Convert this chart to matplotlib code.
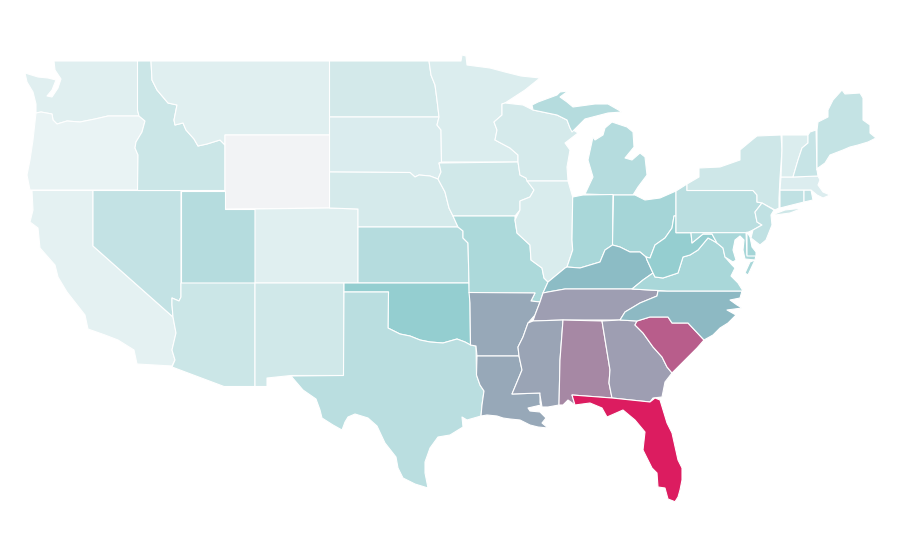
import numpy as np
import matplotlib
matplotlib.use("Agg")
import matplotlib.pyplot as plt
from matplotlib.colors import LinearSegmentedColormap, Normalize
from matplotlib.patches import Polygon

# Choropleth values (Wyoming has no value)
STATES = ["WA","OR","CA","NV","ID","MT","WY","UT","CO","AZ","NM","ND","SD","NE","KS","OK","TX",
          "MN","IA","MO","AR","LA","WI","IL","MI","IN","OH","KY","TN","MS","AL","GA","FL","SC",
          "NC","VA","WV","PA","NY","NJ","MD","DE","CT","RI","MA","VT","NH","ME"]
VALUES = [.051,.026,.041,.147,.118,.054,np.nan,.191,.054,.118,.102,.096,.073,.086,.188,.295,.172,
          .07,.105,.217,.55,.55,.086,.077,.188,.23,.24,.40,.62,.58,.70,.62,1.0,.85,
          .42,.23,.29,.172,.112,.153,.23,.243,.156,.156,.064,.067,.131,.144]

# Map geometry, in map units of the 900x560 canvas
OUTLINES = {
"WA":[[(54,61),(137.5,61),(137.5,110),(139,116),(108,116),(95,119),(80,122),(67,121),(57,124),(53,120),(52,114),(41,112),(36,113),(36,104),(33,92),(27,82),(25,73),(38,77),(48,78),(56,80),(52,90),(47,96),(52,97),(58,88),(61,79),(55,70)]],
"OR":[[(36,113),(41,112),(52,114),(53,120),(57,124),(67,121),(80,122),(95,119),(108,116),(139,116),(145,121),(142,132),(136,142),(135,148),(138,155),(137.5,190),(30,190),(27,175),(30,160),(33,140)]],
"CA":[[(32,190.5),(93,190.5),(93,246),(173,317),(176,333),(172,350),(175,360),(172,366),(137,364),(134,350),(118,340),(105,335),(88,329),(85,315),(67,292),(58,277),(55,265),(40,248),(38,228),(30,222),(33,210)]],
"NV":[[(93,190.5),(181,190.5),(181,297),(179,301),(172,298),(172,305),(173,317),(93,246)]],
"ID":[[(137.5,61),(151,61),(152,80),(157,90),(168,103),(177,105),(174,120),(175,125),(183,123),(186,130),(194,139),(198,146),(207,144),(220,140),(225,145),(225,190.5),(137.5,190.5),(138,155),(135,148),(136,142),(142,132),(145,121),(139,116),(137.5,110)]],
"MT":[[(151,61),(329.5,61),(329.5,135),(225,135),(225,145),(220,140),(207,144),(198,146),(194,139),(186,130),(183,123),(175,125),(174,120),(177,105),(168,103),(157,90),(152,80)]],
"WY":[[(225,135),(329.5,135),(329.5,208),(225,209)]],
"UT":[[(181,190.5),(225,190.5),(225,209),(255,209),(255,283),(181,283)]],
"CO":[[(255,209),(329.5,208),(358,209),(358,283),(255,283)]],
"AZ":[[(181,283),(255,283),(255,386.5),(224,386.5),(172,367),(175,360),(172,350),(176,333),(173,317),(172,305),(172,298),(179,301),(181,297)]],
"NM":[[(255,283),(344,283),(343.5,375.5),(291,375.5),(267,378),(267,386.5),(255,386.5)]],
"ND":[[(329.5,61),(429,61),(431,75),(435,85),(437,100),(439,117),(329.5,117)]],
"SD":[[(329.5,117),(439,117),(437,125),(441,130),(441.5,162),(439,163),(441,172),(438,179),(430,176),(419,175),(415,177),(410,172.5),(329.5,172)]],
"NE":[[(329.5,172),(410,172.5),(415,177),(419,175),(430,176),(438,179),(445,192),(449,208),(453,216),(458,227),(358,227),(358,209),(329.5,208)]],
"KS":[[(358,227),(458,227),(463,231),(463,238),(468,243),(469,283),(358,283)]],
"OK":[[(344,283),(469,283),(470,303),(470.5,345),(465,342),(457,339),(443,343),(430,342),(420,340),(410,336),(400,334),(388,328),(388.5,292),(344,292)]],
"TX":[[(344,292),(388.5,292),(388,328),(400,334),(410,336),(420,340),(430,342),(443,343),(457,339),(465,342),(470.5,345),(476,346),(476.5,375),(480,385),(484,391),(482,405),(481,416),(467,420),(462,417),(463,427),(450,435),(438,437),(430,448),(425,462),(425,473),(428,488),(415,484),(403,478),(398,468),(396,457),(385,443),(377,426),(368,418),(355,414),(348,417),(345,422),(342,430),(333,425),(322,418),(320,410),(316,399),(303,390),(291,376),(343.5,375.5)]],
"MN":[[(429,61),(461,61),(462,55),(466,56),(467,65),(490,68),(505,72),(521,76),(540,78),(525,90),(505,103),(502,104),(502,115),(494,122),(497,130),(495,140),(510,148),(518,155),(518,162),(441.5,162),(441,130),(437,125),(439,117),(437,100),(435,85),(431,75)]],
"IA":[[(439,163),(518,162),(520,175),(526,178),(534,190),(530,197),(520,201),(520,210),(515,216),(453,216),(449,208),(445,192),(438,179),(441,172)]],
"MO":[[(453,216),(515,216),(515,220),(517,233),(530,245),(531,260),(542,268),(544,278),(548,282),(543,293),(540,302),(531,301),(535,293),(469,292.5),(469,283),(468,243),(463,238),(463,231),(458,227)]],
"AR":[[(469,292.5),(535,293),(531,301),(540,302),(535,315),(528,323),(523,337),(518,347),(519,356),(477,356),(476,346),(470.5,345),(470,303)]],
"LA":[[(477,356),(519,356),(522,370),(517,382),(512,394),(540,393),(540,403),(541,405),(528,408),(530,411),(540,412),(546,418),(542,423),(548,428),(538,427),(530,425),(520,420),(510,419),(503,418),(497,416),(487,415),(481,416),(482,405),(484,391),(480,385),(476.5,375)]],
"WI":[[(505,103),(523,105),(533,110),(557,115),(567,120),(570,128),(578,133),(565,143),(570,150),(567,167),(568,181),(527,181),(526,178),(520,175),(518,162),(518,155),(510,148),(495,140),(497,130),(494,122),(502,115),(502,104)]],
"IL":[[(527,181),(568,181),(572.7,197),(572,240),(572.7,250),(567,267),(565,268),(548,282),(544,278),(542,268),(531,260),(530,245),(517,233),(515,220),(520,210),(520,201),(530,197),(534,190)]],
"MI":[[(532,105),(538,102),(557,95),(560,92),(568,91),(560,97),(567,102),(573,107),(595,104),(608,104),(622,112),(608,113),(585,119),(572,132),(570,128),(567,120),(557,115),(533,110)],
      [(612,122),(627,127),(633,132),(634,147),(625,158),(632,160),(640,153),(645,157),(647,175),(638,187),(633,195),(613.5,195),(585,194),(593,177),(588,160),(593,137),(595,140),(603,135),(605,128)]],
"IN":[[(572.7,197),(583,195),(613,194.5),(612.5,245),(605,250),(600,262),(590,265),(580,268),(567,267),(572.7,250),(572,240)]],
"OH":[[(613.5,195),(635,195),(645,200),(660,198),(676,191),(676,216),(674,216),(672,228),(665,238),(655,245),(650,258),(646,257),(640,252),(630,252),(620,247),(612.5,245)]],
"KY":[[(612.5,245),(620,247),(630,252),(640,252),(646,257),(647,260),(653,273),(643,280),(632,289),(565,289),(548,292),(543,293),(548,282),(565,268),(567,267),(580,268),(590,265),(600,262),(605,250)]],
"TN":[[(543,293),(548,292),(565,289),(632,289),(667,291),(658,291),(657,296),(640,303),(625,312),(620,320),(563,320),(533,321),(535,315),(540,302)]],
"MS":[[(533,321),(563,320),(560,360),(559,405),(548,407),(542,407),(540,395),(540,393),(512,394),(517,382),(522,370),(519,356),(518,347),(523,337),(528,323)]],
"AL":[[(563,320),(602,321),(610,370),(609,383),(612,398),(572,395),(575,405),(568,400),(563,405),(559,405),(560,360)]],
"GA":[[(602,321),(620,320),(637,321),(635,325),(643,333),(653,347),(662,357),(667,367),(672,373),(665,382),(662,397),(653,398),(650,402),(612,398),(609,383),(610,370)]],
"FL":[[(572,395),(612,398),(650,402),(655,398),(660,400),(667,423),(672,433),(678,460),(682,468),(682,480),(680,490),(678,497),(675,501.7),(668,499),(665,488),(658,487),(657,473),(652,468),(647,458),(643,450),(645,432),(635,420),(623,410),(607,417),(602,408),(590,403),(575,405)]],
"SC":[[(637,321),(650,317),(668,317),(672,323),(688,323),(704,340),(697,348),(685,360),(672,373),(667,367),(662,357),(653,347),(643,333),(635,325)]],
"NC":[[(658,291),(742,291),(740,298),(730,300),(737,305),(742,308),(727,310),(736,315),(728,323),(720,328),(713,335),(704,340),(688,323),(672,323),(668,317),(650,317),(637,321),(620,320),(625,312),(640,303),(657,296)]],
"VA":[[(632,289),(643,280),(653,273),(655,277),(663,278),(678,273),(683,257),(690,255),(698,250),(708,238),(712,240),(717,243),(723,248),(725,257),(732,265),(735,268),(731,276),(738,283),(743,291),(667,291)],
      [(755,260),(748,275),(745,273),(750,262)]],
"WV":[[(676,216),(676,232.7),(691,232.7),(692,243),(703,234),(712,234),(717,243),(712,240),(708,238),(698,250),(690,255),(683,257),(678,273),(663,278),(655,277),(653,273),(647,260),(646,257),(650,258),(655,245),(665,238),(672,228),(674,216)]],
"PA":[[(676,191),(687,184),(687,190.5),(753,190.5),(757,195),(757,202),(762,203),(755,212),(757,222),(762,225),(753,230),(747,232.7),(676,232.7)]],
"NY":[[(687,190.5),(687,184),(699,177),(699,168),(720,167),(740,160),(740,150),(752,140),(757,136),(781,135),(782,150),(780,178),(779,198),(779,208),(775,210),(762,203),(757,202),(757,195),(753,190.5)],
      [(772,215),(785,210),(803,208),(790,213),(775,215)]],
"NJ":[[(762,203),(774,210),(771,215),(772,225),(766,240),(760,245),(751,238),(753,230),(762,225),(757,222),(755,212)]],
"MD":[[(691,232.7),(746,232.7),(747,255),(756,255),(755,260),(745,259),(743,250),(744,240),(740,236),(735,240),(733,250),(736,260),(733,262),(725,257),(723,248),(717,243),(712,234),(703,234),(692,243)]],
"DE":[[(747,232),(750,237),(752,247),(756,252),(756,256),(747,256)]],
"CT":[[(780,190),(804,190),(804,202),(780,208)]],
"RI":[[(804,190),(811,190),(813,200),(804,202)]],
"MA":[[(781,177),(793,177),(818,176),(820,180),(818,185),(823,192),(830,195),(823,198),(817,195),(811,190),(780,190)]],
"VT":[[(782,135),(808,135),(808,143),(802,148),(798,160),(793,177),(781,177),(782,150)]],
"NH":[[(808,135),(810,132),(816,130),(817,170),(818,176),(793,177),(798,160),(802,148),(808,143)]],
"ME":[[(817,130),(818,122),(828,117),(828,110),(833,100),(842,90),(845,94),(860,93),(863,98),(863,120),(870,125),(870,133),(876,138),(868,142),(858,145),(850,147),(843,150),(830,155),(825,163),(818,168),(817,170)]],
}

COLOR_STOPS = [0.0, .30, .40, .55, .62, .70, .85, 1.0]
COLOR_HEX = ["#f0f6f7", "#92cdcf", "#8cbcc5", "#97a8b8", "#9e9eb2", "#a689a4", "#b85d8b", "#dc1c60"]
NO_DATA = "#f2f3f5"

cmap = LinearSegmentedColormap.from_list("ramp", list(zip(COLOR_STOPS, COLOR_HEX)))
norm = Normalize(0, 1)

fig = plt.figure(figsize=(9, 5.6), dpi=100)
ax = fig.add_axes([0, 0, 1, 1])
ax.set_xlim(0, 900)
ax.set_ylim(560, 0)
ax.axis("off")

for name, value in zip(STATES, VALUES):
    color = NO_DATA if np.isnan(value) else cmap(norm(value))
    for part in OUTLINES[name]:
        ax.add_patch(Polygon(part, closed=True, facecolor=color, edgecolor="white",
                             linewidth=0.8, joinstyle="round"))

fig.savefig("out.png", dpi=100, facecolor="white")
